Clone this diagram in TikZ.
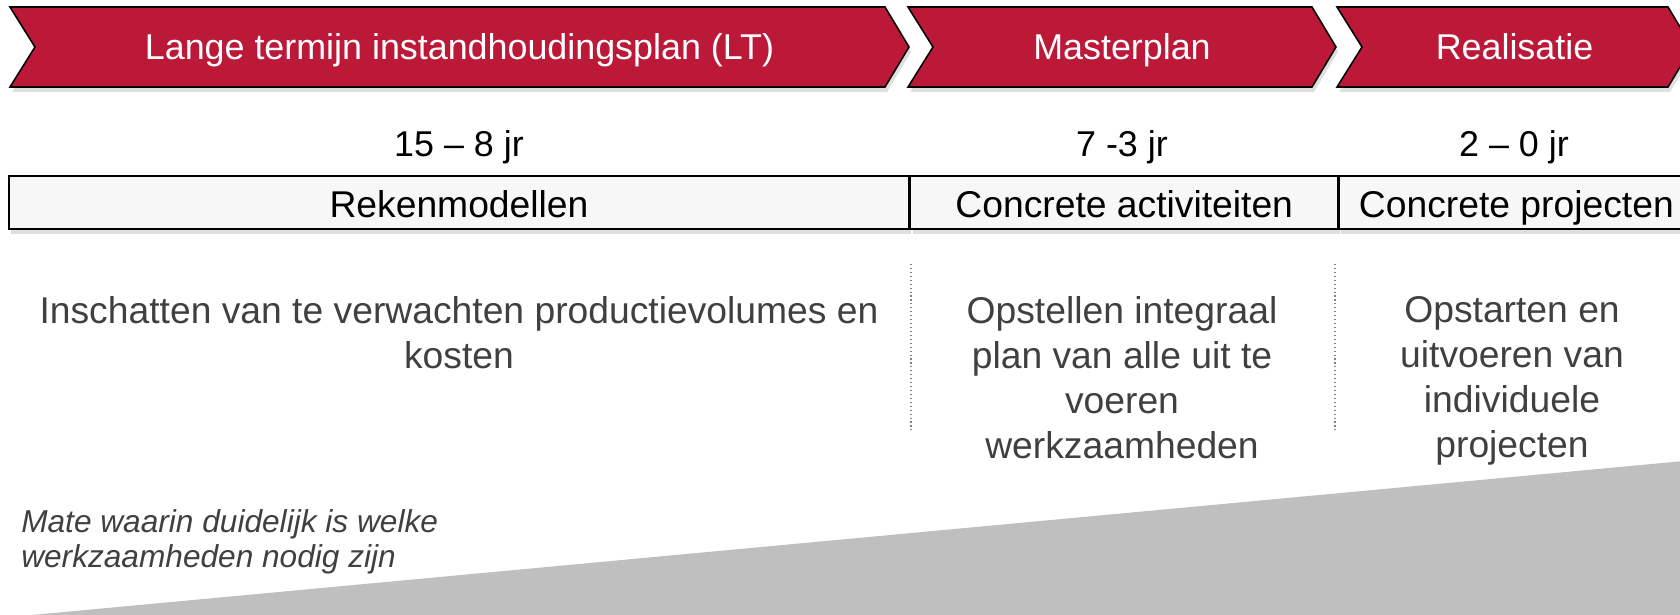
\documentclass[tikz,border=0pt]{standalone}
\usepackage{fontspec}
\setmainfont{Liberation Sans}
\usetikzlibrary{positioning,shadows}
\definecolor{rossofase}{RGB}{188,24,56}
\definecolor{grigiocella}{RGB}{247,247,247}
\definecolor{grigiotesto}{RGB}{64,64,64}
\definecolor{grigiocuneo}{RGB}{191,191,191}
\tikzset{
    tijdlijn/.style={
        x=0.025cm, y=-0.025cm,
        % Stile per le fasi (chevron rosso)
        fase/.style={fill=rossofase, draw=black, line width=1.1pt,
                     drop shadow={shadow xshift=1.5pt, shadow yshift=-3.5pt,
                                  opacity=.25}},
        fasetesto/.style={text=white, anchor=base, inner sep=0pt,
                          font=\fontsize{25.5}{30}\selectfont},
        % Stile per gli anni
        anni/.style={anchor=base, inner sep=0pt,
                     font=\fontsize{25.5}{30}\selectfont},
        % Stile per le celle della tabella
        cella/.style={draw=black, fill=grigiocella, line width=1.1pt,
                      minimum height=1.325cm, inner sep=0pt,
                      text height=0.725cm, text depth=0pt,
                      font=\fontsize{26.5}{32}\selectfont,
                      drop shadow={shadow xshift=1.5pt, shadow yshift=-3.5pt,
                                   opacity=.25}},
        % Stile per le descrizioni
        descr/.style={text=grigiotesto, align=center, anchor=north,
                      inner sep=0pt, font=\fontsize{26.5}{32}\selectfont},
        nota/.style={text=grigiotesto, align=left, anchor=north west,
                     inner sep=0pt, font=\fontsize{22.5}{25}\selectfont\itshape},
        divisore/.style={draw=gray, dotted, line width=0.8pt},
        cuneo/.style={fill=grigiocuneo}
    }
}

\begin{document}
\begin{tikzpicture}[tijdlijn]
    \useasboundingbox (0,0) rectangle (1680,615);
    \fill[cuneo] (32,615) -- (1700,459.5) -- (1700,615) -- cycle;

    \foreach \l/\r/\naam/\tekst in {10/885/lt/{Lange termijn instandhoudingsplan (LT)},
                                    908/1312/mp/Masterplan,
                                    1337/1668/re/Realisatie}{
        \filldraw[fase] (\l,7) -- (\r,7) -- (\r+24,47) -- (\r,87)
                        -- (\l,87) -- (\l+25,47) -- cycle;
        \node[fasetesto] (\naam) at ({(\l+\r+24)/2},60) {\tekst};
    }

    \node[anni] (j1) at (459,157) {15 -- 8 jr};
    \node[anni] (j2) at (1122,157) {7 -3 jr};
    \node[anni] (j3) at (1514,157) {2 -- 0 jr};

    \node[cella, minimum width=22.5cm] (rek) at (459,202.5) {Rekenmodellen};
    \node[cella, minimum width=10.675cm, right=0pt of rek] (act) {Concrete activiteiten};
    \node[cella, minimum width=8.85cm, right=0pt of act] (proj) {Concrete projecten};

    \draw[divisore] (911,264) -- (911,432);
    \draw[divisore] (1335,264) -- (1335,432);

    \node[descr] (d1) at (459,296) {Inschatten van te verwachten productievolumes en\\kosten};
    \node[descr] (d2) at (1122,296) {Opstellen integraal\\plan van alle uit te\\voeren\\werkzaamheden};
    \node[descr] (d3) at (1512,296) {Opstarten en\\uitvoeren van\\individuele\\projecten};

    \node[nota] (nota) at (21,509) {Mate waarin duidelijk is welke\\werkzaamheden nodig zijn};
\end{tikzpicture}
\end{document}
